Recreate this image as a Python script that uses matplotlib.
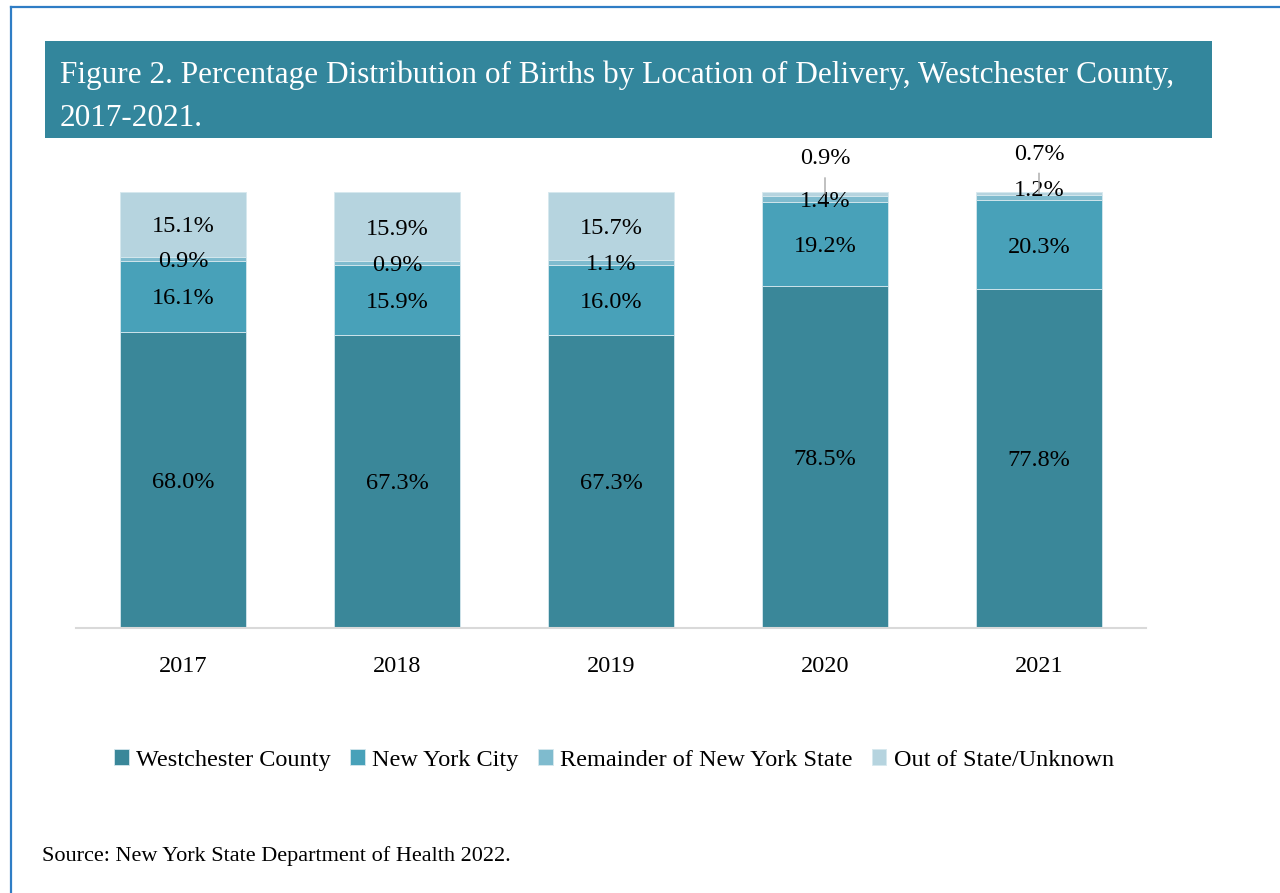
import numpy as np
import matplotlib.pyplot as plt
from matplotlib.patches import Rectangle
from matplotlib.lines import Line2D

plt.rcParams['font.family'] = ['Liberation Serif', 'DejaVu Serif']

years = ['2017', '2018', '2019', '2020', '2021']
westchester = [68.0, 67.3, 67.3, 78.5, 77.8]
nyc = [16.1, 15.9, 16.0, 19.2, 20.3]
remainder = [0.9, 0.9, 1.1, 1.4, 1.2]
out_of_state = [15.1, 15.9, 15.7, 0.9, 0.7]

series_names = ['Westchester County', 'New York City',
                'Remainder of New York State', 'Out of State/Unknown']
colors = ['#3a8799', '#48a1b9', '#7fbbce', '#b6d4df']

W, H = 1280, 893
fig = plt.figure(figsize=(W / 100, H / 100), dpi=100)

# page border (only top and left visible in the crop)
fig.add_artist(Line2D([11 / W, 1], [1 - 7 / H, 1 - 7 / H], color='#2f7dc5', lw=1.6))
fig.add_artist(Line2D([11 / W, 11 / W], [0, 1 - 7 / H], color='#2f7dc5', lw=1.6))

# title band
fig.add_artist(Rectangle((45 / W, 1 - 138 / H), (1212 - 45) / W, 97 / H,
                         facecolor='#33869c', edgecolor='none'))
fig.text(60 / W, 1 - 75 / H,
         'Figure 2. Percentage Distribution of Births by Location of Delivery, Westchester County,',
         color='white', fontsize=22.5, va='center', ha='left')
fig.text(60 / W, 1 - 119 / H, '2017-2021.', color='white', fontsize=22.5,
         va='center', ha='left')

ax = fig.add_axes([76 / W, 1 - 628 / H, 1070 / W, 436 / H])
x = np.arange(len(years))
data = [westchester, nyc, remainder, out_of_state]
bottom = np.zeros(len(years))
for vals, name, c in zip(data, series_names, colors):
    vals = np.array(vals)
    ax.bar(x, vals, width=0.59, bottom=bottom, color=c, label=name,
           edgecolor='#d6e8ee', linewidth=0.6)
    for i, v in enumerate(vals):
        ymid = bottom[i] + v / 2
        if name == 'Out of State/Unknown' and v < 2:
            # small top slices get a call-out above the bar
            dy = 27 if i == 3 else 30
            ax.annotate(f'{v:.1f}%', xy=(i, ymid), xytext=(0, dy),
                        textcoords='offset points', ha='center',
                        va='center_baseline', fontsize=17.5,
                        arrowprops=dict(arrowstyle='-', color='#a6a6a6', lw=1,
                                        shrinkA=4, shrinkB=0))
        elif name == 'Remainder of New York State' and i == 4:
            ax.annotate(f'{v:.1f}%', xy=(i, ymid), xytext=(0, 7),
                        textcoords='offset points', ha='center',
                        va='center_baseline', fontsize=17.5)
        else:
            ax.text(i, ymid, f'{v:.1f}%', ha='center', va='center_baseline',
                    fontsize=17.5)
    bottom += vals

ax.set_xlim(-0.5, len(years) - 0.5)
ax.set_ylim(0, 100)
ax.set_xticks(x)
ax.set_xticklabels(years, fontsize=17.5)
ax.tick_params(axis='x', length=0, pad=20)
ax.set_yticks([])
for s in ['top', 'right', 'left']:
    ax.spines[s].set_visible(False)
ax.spines['bottom'].set_color('#d9d9d9')
ax.spines['bottom'].set_linewidth(1.5)

handles, labels = ax.get_legend_handles_labels()
fig.legend(handles, labels, loc='center', bbox_to_anchor=(614 / W, 1 - 760 / H),
           ncol=4, frameon=False, fontsize=17.5, handlelength=0.6,
           handleheight=0.6, handletextpad=0.3, columnspacing=0.8)

fig.text(42 / W, 1 - 856 / H, 'Source: New York State Department of Health 2022.',
         fontsize=16, va='center', ha='left')

fig.savefig('out.png', dpi=100)
